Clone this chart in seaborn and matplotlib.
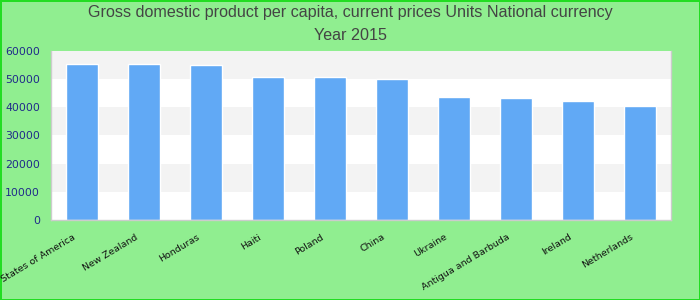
import matplotlib
matplotlib.use("Agg")
import matplotlib.pyplot as plt
import matplotlib.transforms as mtransforms
import seaborn as sns
import pandas as pd

countries = ["United States of America", "New Zealand", "Honduras", "Haiti", "Poland",
             "China", "Ukraine", "Antigua and Barbuda", "Ireland", "Netherlands"]
values = [55300, 55300, 55000, 50700, 50700, 50000, 43600, 43300, 42200, 40400]
yticks = [0, 10000, 20000, 30000, 40000, 50000, 60000]

df = pd.DataFrame({"country": countries, "value": values})

sns.set_theme(style="white")
plt.rcParams['font.family'] = ['DejaVu Sans']

fig = plt.figure(figsize=(7, 3), dpi=100, facecolor="#90EE90",
                 edgecolor="#22DD22", linewidth=2)
ax = fig.add_axes([51/700, 80/300, 620/700, 169/300])
ax.set_facecolor("white")

for i in range(len(yticks) - 1):
    if i % 2 == 1:
        ax.axhspan(yticks[i], yticks[i + 1], color="#F3F3F3", zorder=0, lw=0)

sns.barplot(data=df, x="country", y="value", color="#61A9F5", saturation=1,
            width=0.52, ax=ax, zorder=2)

ax.set_ylim(0, 60000)
ax.set_xlim(-0.5, len(countries) - 0.5)
ax.set_yticks(yticks)
ax.set_yticklabels([str(t) for t in yticks], color="#1F2A8A", fontsize=7.8)
ax.set_xticks(range(len(countries)))
ax.set_xticklabels(countries, rotation=31, ha="right", fontsize=6.8, color="#111111")
ax.tick_params(axis="y", length=0, pad=8)
ax.tick_params(axis="x", length=0, pad=9)
offset = mtransforms.ScaledTranslation(-5/100, 0, fig.dpi_scale_trans)
for lab in ax.get_xticklabels():
    lab.set_transform(lab.get_transform() + offset)
ax.set_xlabel("")
ax.set_ylabel("")
for s in ["left", "bottom", "right"]:
    ax.spines[s].set_color("#CCCCCC")
    ax.spines[s].set_linewidth(1)
ax.spines["top"].set_visible(False)

fig.text(0.5, 1 - 13/300, "Gross domestic product per capita, current prices Units National currency",
         ha="center", va="center", fontsize=11.6, color="#444444", family="Liberation Sans")
fig.text(0.5, 1 - 36/300, "Year 2015", ha="center", va="center", fontsize=11.6,
         color="#444444", family="Liberation Sans")

fig.savefig("out.png", dpi=100, facecolor=fig.get_facecolor(), edgecolor=fig.get_edgecolor())
